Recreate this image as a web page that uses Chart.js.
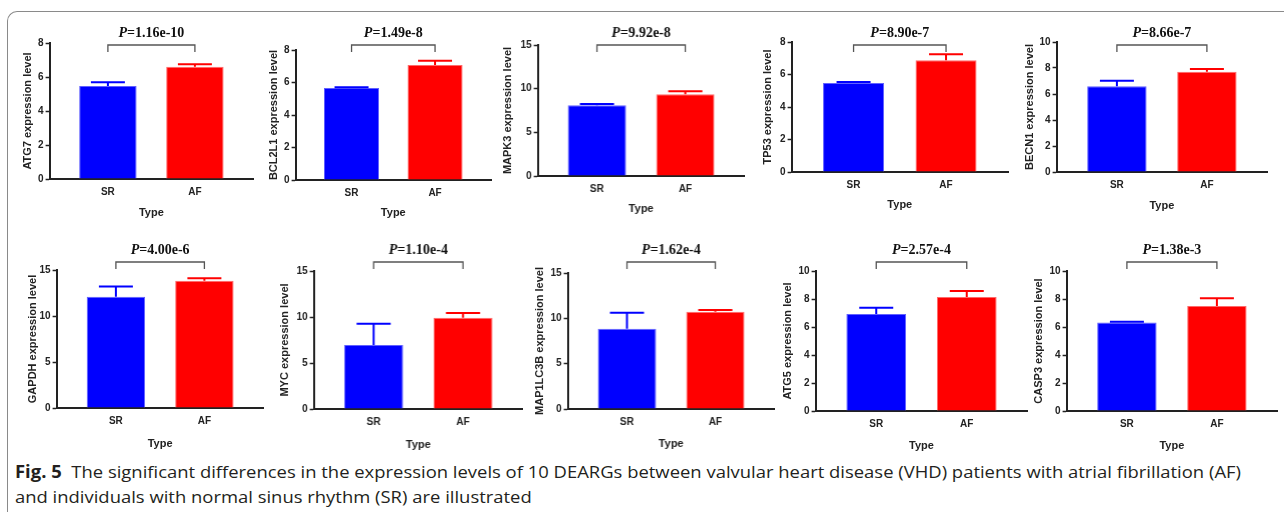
<!DOCTYPE html>
<html>
<head>
<meta charset="utf-8">
<title>Fig. 5 - DEARG expression SR vs AF</title>
<script src="https://cdn.jsdelivr.net/npm/chart.js@4.4.1/dist/chart.umd.min.js"></script>
<style>
  body { margin: 0; width: 1284px; height: 516px; background: #fff; overflow: hidden; position: relative; }
  .frame { position: absolute; left: 7px; top: 11px; width: 1300px; height: 500px;
           border-top: 1.5px solid #8a8a8a; border-left: 1.5px solid #8a8a8a; border-top-left-radius: 10px; }
  .cell { position: absolute; }
  .caption { position: absolute; left: 15px; top: 459px; font-family: "Open Sans", sans-serif; font-size: 17px;
             line-height: 25px; color: #231f20; white-space: nowrap; transform-origin: 0 0; }
  .caption b { font-weight: 700; }
</style>
</head>
<body>
<div class="frame"></div>
<div id="charts"></div>
<div class="caption" id="caption">
  <div><span id="cap1"><b>Fig. 5</b>&nbsp; The significant differences in the expression levels of 10 DEARGs between valvular heart disease (VHD) patients with atrial fibrillation (AF)</span></div>
  <div>and individuals with normal sinus rhythm (SR) are illustrated</div>
</div>
<script>
const genes = ['ATG7', 'BCL2L1', 'MAPK3', 'TP53', 'BECN1', 'GAPDH', 'MYC', 'MAP1LC3B', 'ATG5', 'CASP3'];
const pValues = ['1.16e-10', '1.49e-8', '9.92e-8', '8.90e-7', '8.66e-7', '4.00e-6', '1.10e-4', '1.62e-4', '2.57e-4', '1.38e-3'];
const groups = ['SR', 'AF'];
const srMean = [5.47, 5.66, 8.10, 5.48, 6.60, 12.10, 6.96, 8.85, 6.93, 6.33];
const srErr  = [0.22, 0.05, 0.15, 0.06, 0.42, 1.10, 2.31, 1.77, 0.45, 0.05];
const afMean = [6.60, 7.08, 9.35, 6.87, 7.72, 13.84, 9.93, 10.73, 8.14, 7.50];
const afErr  = [0.15, 0.26, 0.35, 0.37, 0.20, 0.26, 0.50, 0.19, 0.43, 0.55];
const yMax  = [8, 8, 15, 8, 10, 15, 15, 15, 10, 10];
const yStep = [2, 2, 5, 2, 2, 5, 5, 5, 2, 2];

// page placement of each panel (px): bar centres, top tick, zero line, y-title gap, "Type" line
const panels = [
  {c0: 107.5, c1: 194.5, top: 43,  zero: 179, d: 22, type: 213},
  {c0: 351.5, c1: 435,   top: 50,  zero: 180, d: 22, type: 213},
  {c0: 597,   c1: 685,   top: 45,  zero: 176, d: 30, type: 209},
  {c0: 853.5, c1: 946,   top: 42,  zero: 172, d: 24, type: 205},
  {c0: 1116.5,c1: 1206.5,top: 42,  zero: 172, d: 27, type: 206},
  {c0: 115.5, c1: 204,   top: 270, zero: 408, d: 24, type: 444},
  {c0: 373.5, c1: 462.5, top: 271, zero: 409, d: 29, type: 445},
  {c0: 627,   c1: 715,   top: 273, zero: 409, d: 28, type: 444},
  {c0: 876,   c1: 966.5, top: 271, zero: 411, d: 28, type: 446},
  {c0: 1127,  c1: 1217,  top: 271, zero: 411, d: 28, type: 446}
];
const rowTop = [14, 228];
const rowH = [210, 228];
const bracketY = [45, 262];
const pLabelY = [33, 250];
const xMin = -0.67, xMax = 1.67;

const ink = '#222';
const barColors = ['#0000ff', '#ff0000'];
const barEdges = ['#6060ff', '#ff6a6a'];
const sans = '"Liberation Sans", Arial, sans-serif';
const serif = '"Liberation Serif", "Times New Roman", serif';
const titleSize = 11;

const marks = {
  id: 'marks',
  afterDatasetsDraw(chart, args, opts) {
    const {ctx, scales: {x, y}} = chart;
    const i = opts.idx;
    const means = [srMean[i], afMean[i]];
    const errs = [srErr[i], afErr[i]];
    ctx.save();
    ctx.lineWidth = 2;
    groups.forEach((g, k) => {
      const px = x.getPixelForValue(k);
      const y0 = y.getPixelForValue(means[k]);
      const y1 = y.getPixelForValue(means[k] + errs[k]);
      ctx.strokeStyle = barColors[k];
      ctx.beginPath();
      ctx.moveTo(px, y0);
      ctx.lineTo(px, y1);
      ctx.moveTo(px - 17, y1);
      ctx.lineTo(px + 17, y1);
      ctx.stroke();
    });

    // significance bracket + P label
    const bx0 = x.getPixelForValue(0), bx1 = x.getPixelForValue(1);
    const by = opts.bracket;
    ctx.strokeStyle = '#555';
    ctx.lineWidth = 1.3;
    ctx.beginPath();
    ctx.moveTo(bx0, by + 7);
    ctx.lineTo(bx0, by);
    ctx.lineTo(bx1, by);
    ctx.lineTo(bx1, by + 7);
    ctx.stroke();

    const fItal = 'italic bold 14px ' + serif;
    const fBold = 'bold 14px ' + serif;
    const rest = '=' + pValues[i];
    ctx.font = fItal;
    const wP = ctx.measureText('P').width;
    ctx.font = fBold;
    const wR = ctx.measureText(rest).width;
    let lx = (bx0 + bx1) / 2 - (wP + wR) / 2;
    ctx.fillStyle = '#111';
    ctx.textBaseline = 'middle';
    ctx.textAlign = 'left';
    ctx.font = fItal;
    ctx.fillText('P', lx, opts.label);
    ctx.font = fBold;
    ctx.fillText(rest, lx + wP, opts.label);
    ctx.restore();
  }
};

const holder = document.getElementById('charts');

panels.forEach((p, i) => {
  const row = i < 5 ? 0 : 1;
  const unit = p.c1 - p.c0;
  const axisX = p.c0 + xMin * unit;
  const xEnd = p.c0 + xMax * unit;
  const W = p.d + titleSize * 1.2 / 2;
  const H = p.type - p.zero + titleSize * 1.2 / 2;
  const left = axisX - W - 2;
  const right = xEnd + 4;

  const cell = document.createElement('div');
  cell.className = 'cell';
  cell.style.left = left + 'px';
  cell.style.top = rowTop[row] + 'px';
  cell.style.width = (right - left) + 'px';
  cell.style.height = rowH[row] + 'px';
  const cv = document.createElement('canvas');
  cell.appendChild(cv);
  holder.appendChild(cell);

  new Chart(cv, {
    type: 'bar',
    data: {
      datasets: [{
        data: groups.map((g, k) => ({x: k, y: k === 0 ? srMean[i] : afMean[i]})),
        backgroundColor: barColors,
        borderColor: barEdges,
        borderWidth: 1,
        barPercentage: 0.66,
        categoryPercentage: 1
      }]
    },
    options: {
      responsive: true,
      maintainAspectRatio: false,
      animation: false,
      layout: {
        padding: {
          left: 2,
          right: 4,
          top: p.top - rowTop[row],
          bottom: rowTop[row] + rowH[row] - (p.zero + H)
        }
      },
      plugins: {
        legend: {display: false},
        tooltip: {enabled: false},
        marks: {idx: i, bracket: bracketY[row] - rowTop[row], label: pLabelY[row] - rowTop[row]}
      },
      scales: {
        x: {
          type: 'linear',
          min: xMin,
          max: xMax,
          offset: false,
          afterBuildTicks: s => { s.ticks = [{value: 0}, {value: 1}]; },
          afterFit: s => { s.height = H; },
          ticks: {
            callback: v => groups[v],
            font: {family: sans, size: 10, weight: 'bold'},
            color: ink,
            padding: 7,
            maxRotation: 0
          },
          grid: {display: false, drawTicks: false},
          border: {display: true, color: ink, width: 2},
          title: {display: true, text: 'Type', font: {family: sans, size: titleSize, weight: 'bold'}, color: ink, padding: 0}
        },
        y: {
          min: 0,
          max: yMax[i],
          afterFit: s => { s.width = W; },
          ticks: {
            stepSize: yStep[i],
            font: {family: sans, size: 10, weight: 'bold'},
            color: ink,
            padding: 2
          },
          grid: {display: true, drawOnChartArea: false, drawTicks: true, tickLength: 4, tickWidth: 1.5, tickColor: ink},
          border: {display: true, color: ink, width: 2},
          title: {display: true, text: genes[i] + ' expression level', font: {family: sans, size: titleSize, weight: 'bold'}, color: ink, padding: 0}
        }
      }
    },
    plugins: [marks]
  });
});

// stretch caption to the printed line length
function fitCaption() {
  const cap = document.getElementById('caption');
  cap.style.transform = 'none';
  const w = document.getElementById('cap1').getBoundingClientRect().width;
  cap.style.transform = 'scaleX(' + (1226 / w) + ')';
}
fitCaption();
document.fonts.ready.then(fitCaption);
</script>
</body>
</html>
